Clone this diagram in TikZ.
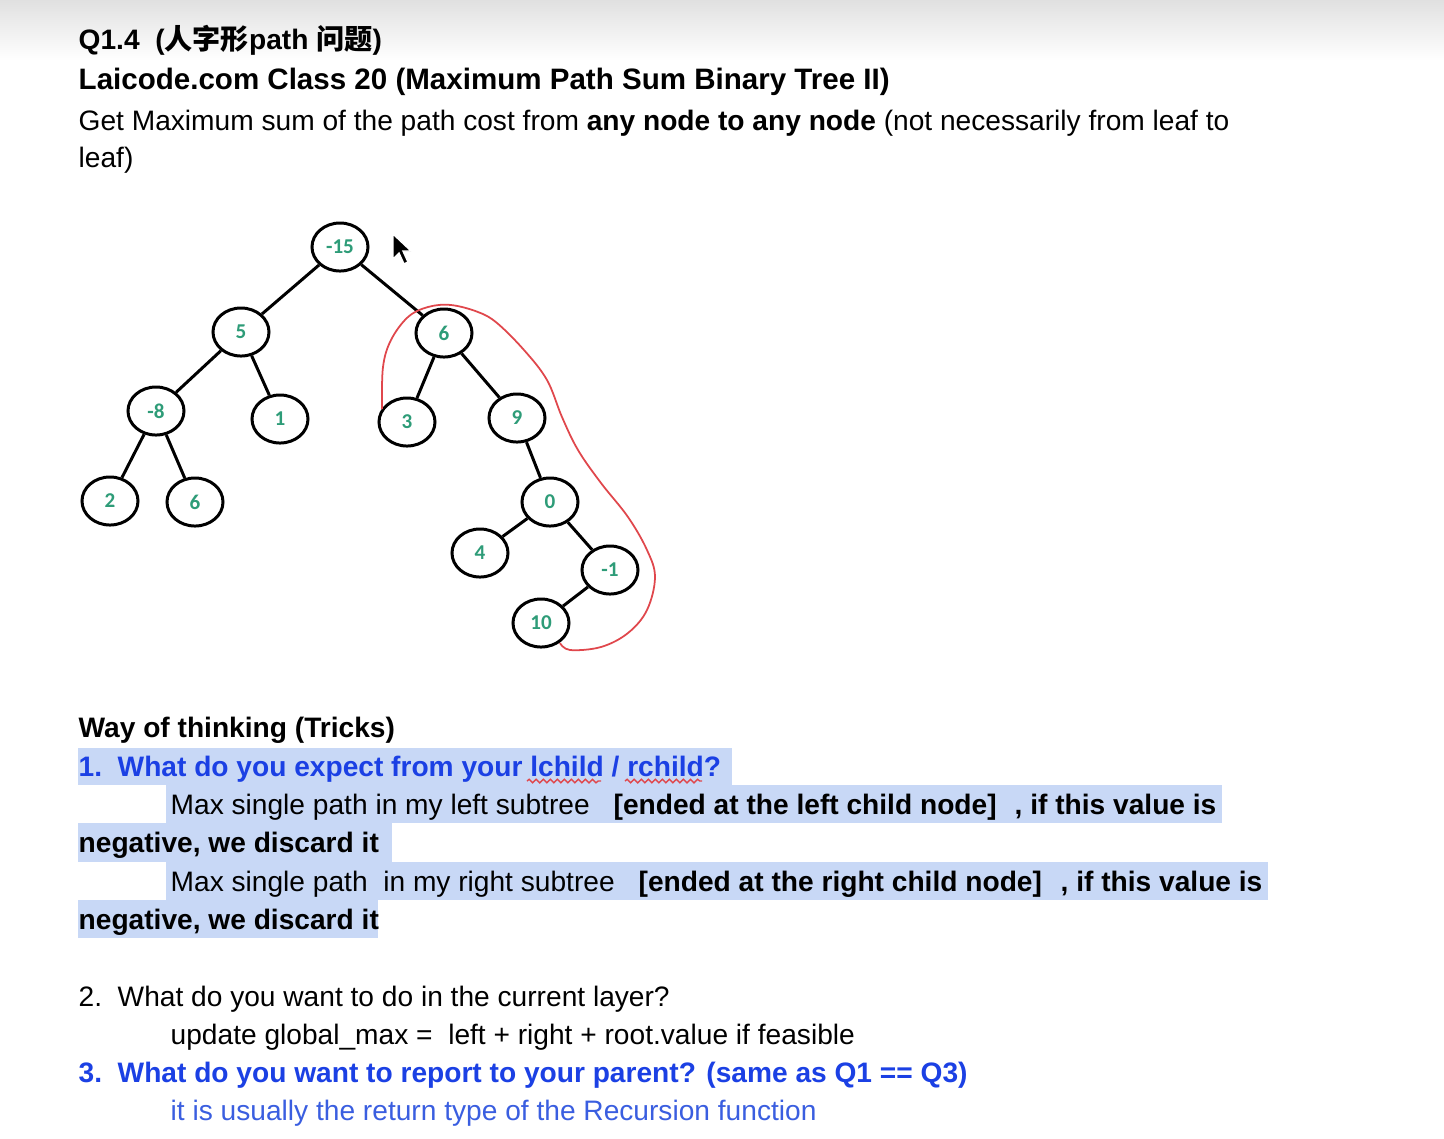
\documentclass[tikz,border=0pt]{standalone}
\usepackage{fontspec}
\setmainfont{Liberation Sans}
\newfontfamily\cjk{Noto Sans CJK SC}
\newfontfamily\numfont{Carlito}
\usetikzlibrary{shapes.geometric,decorations.pathmorphing}
\definecolor{numgreen}{HTML}{2E9C78}
\definecolor{docblue}{HTML}{1B40E4}
\definecolor{softblue}{HTML}{3A5EE0}
\definecolor{hlblue}{HTML}{C8D8F6}
\definecolor{inkred}{HTML}{E0474C}
\begin{document}
\begin{tikzpicture}[
  x=0.01cm, y=-0.01cm,
  nd/.style ={ellipse, draw=black, line width=0.85pt, minimum width=0.56cm,
              minimum height=0.48cm, inner sep=0pt, text=numgreen,
              font=\numfont\bfseries\fontsize{6}{7}\selectfont},
  ed/.style ={line width=0.85pt},
  ln/.style ={anchor=base west, inner sep=0pt, font=\fontsize{8}{10}\selectfont},
  hd/.style ={ln, font=\fontsize{8}{10}\selectfont\bfseries},
  bl/.style ={hd, text=docblue},
  hl/.style ={fill=hlblue, draw=none},
  sq/.style ={inkred, line width=0.4pt, decorate,
              decoration={snake, amplitude=0.5pt, segment length=2pt}}
]
\useasboundingbox (0,0) rectangle (1444,1138);
\fill[white] (0,0) rectangle (1444,1138);
\shade[top color=black!12, bottom color=white] (0,0) rectangle (1444,60);

% ---------- header ----------
\node[hd] (qt)  at (78,49)  {Q1.4~ ({\cjk 人字形}path {\cjk 问题})};
\node[hd, font=\fontsize{8.4}{10}\selectfont\bfseries] (ttl) at (78,89)
  {Laicode.com Class 20 (Maximum Path Sum Binary Tree II)};
\node[ln] (d1)  at (78,130) {Get Maximum sum of the path cost from \textbf{any node to any node} (not necessarily from leaf to};
\node[ln] (d2)  at (78,167) {leaf)};

% ---------- tree ----------
\node[nd] (r)   at (340,247) {-15};
\node[nd] (a)   at (241,332) {5};
\node[nd] (b)   at (444,333) {6};
\node[nd] (aa)  at (156,411) {-8};
\node[nd] (ab)  at (280,419) {1};
\node[nd] (ba)  at (407,422) {3};
\node[nd] (bb)  at (517,418) {9};
\node[nd] (aaa) at (110,501) {2};
\node[nd] (aab) at (195,502) {6};
\node[nd] (bbb) at (550,502) {0};
\node[nd] (x4)  at (480,553) {4};
\node[nd] (xm)  at (610,570) {-1};
\node[nd] (x10) at (541,623) {10};

\foreach \p/\c in {r/a, r/b, a/aa, a/ab, b/ba, b/bb, aa/aaa, aa/aab,
                   bb/bbb, bbb/x4, bbb/xm, xm/x10}
  \draw[ed] (\p) -- (\c);

% red loop round the best path
\draw[inkred, line width=0.5pt] plot[smooth, tension=0.6] coordinates {
  (382,409) (383,367) (391,340) (408,317) (428,307) (451,305) (478,312)
  (497,323) (524,350) (547,380) (562,417) (578,450) (601,483) (628,517)
  (647,550) (655,577) (647,610) (628,633) (601,647) (570,650) (560,643)};

% mouse pointer
\filldraw[black, draw=white, line width=0.4pt] (393,234) -- (393,259) -- (399,253)
  -- (404,264) -- (408,262) -- (403,251) -- (411,251) -- cycle;

% ---------- tricks ----------
\fill[hl] (78,748)  rectangle (732,785);
\fill[hl] (166,785) rectangle (1222,823);
\fill[hl] (78,823)  rectangle (392,862);
\fill[hl] (166,862) rectangle (1268,900);
\fill[hl] (78,900)  rectangle (378,938);

\node[hd] (wt)  at (78,737)  {Way of thinking (Tricks)};
\node[bl] (n1)  at (78,776)  {1.};
\node[bl] (q1)  at (117,776) {What do you expect from your lchild / rchild?};
\draw[sq] (527,781) -- (601,781);
\draw[sq] (625,781) -- (702,781);
\node[ln] (l2a) at (170,814) {Max single path in my left subtree};
\node[hd] (l2b) at (613,814) {[ended at the left child node]};
\node[hd] (l2c) at (1014,814) {, if this value is};
\node[hd] (l3)  at (78,852)  {negative, we discard it};
\node[ln] (l4a) at (170,891) {Max single path~ in my right subtree};
\node[hd] (l4b) at (638,891) {[ended at the right child node]};
\node[hd] (l4c) at (1060,891) {, if this value is};
\node[hd] (l5)  at (78,929)  {negative, we discard it};

\node[ln] (n2)  at (78,1006)  {2.};
\node[ln] (q2)  at (117,1006) {What do you want to do in the current layer?};
\node[ln] (u2)  at (170,1044) {update global\_max =~ left + right + root.value if feasible};
\node[bl] (n3)  at (78,1082)  {3.};
\node[bl] (q3)  at (117,1082) {What do you want to report to your parent? (same as Q1 == Q3)};
\node[ln, text=softblue] (u3) at (170,1120) {it is usually the return type of the Recursion function};
\end{tikzpicture}
\end{document}
